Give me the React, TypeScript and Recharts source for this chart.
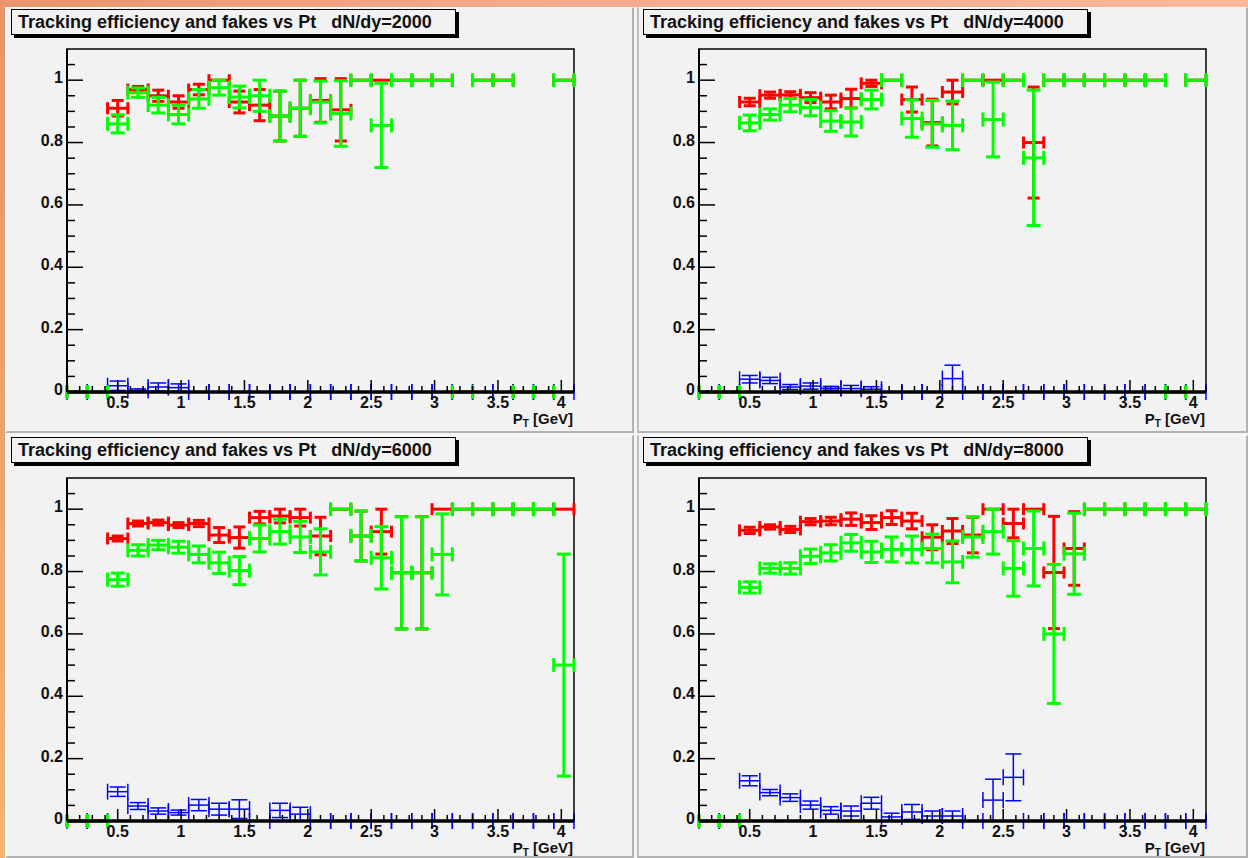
import React from 'react';
import {ScatterChart, Scatter, XAxis, YAxis, ErrorBar, ReferenceArea, ReferenceLine} from 'recharts';

// pT bins (GeV), 25 bins of width 0.16 from 0.1 to 4.1
const binCenters = [0.18, 0.34, 0.5, 0.66, 0.82, 0.98, 1.14, 1.3, 1.46, 1.62, 1.78, 1.94, 2.1, 2.26, 2.42, 2.58, 2.74, 2.9, 3.06, 3.22, 3.38, 3.54, 3.7, 3.86, 4.02];
const binHalfWidth = 0.08;

const xTicks = [0.2, 0.3, 0.4, 0.5, 0.6, 0.7, 0.8, 0.9, 1, 1.1, 1.2, 1.3, 1.4, 1.5, 1.6, 1.7, 1.8, 1.9, 2, 2.1, 2.2, 2.3, 2.4, 2.5, 2.6, 2.7, 2.8, 2.9, 3, 3.1, 3.2, 3.3, 3.4, 3.5, 3.6, 3.7, 3.8, 3.9, 4, 4.1];
const xMajor = [0.5, 1, 1.5, 2, 2.5, 3, 3.5, 4];
const yTicks = [0, 0.05, 0.1, 0.15, 0.2, 0.25, 0.3, 0.35, 0.4, 0.45, 0.5, 0.55, 0.6, 0.65, 0.7, 0.75, 0.8, 0.85, 0.9, 0.95, 1, 1.05];
const yMajor = [0, 0.2, 0.4, 0.6, 0.8, 1];

// dN/dy = 2000
const red2000 = [0, 0, 0.91, 0.97, 0.95, 0.93, 0.97, 1.0, 0.93, 0.92, 0.885, 0.91, 0.935, 0.905, 1.0, 1.0, 1.0, 1.0, 1.0, 0, 1.0, 1.0, 0, 0, 1.0];
const red2000Err = [0, 0, 0.025, 0.01, 0.018, 0.02, 0.017, 0, 0.035, 0.05, 0.08, 0.09, 0.07, 0.1, 0, 0, 0, 0, 0, 0, 0, 0, 0, 0, 0];
const green2000 = [0, 0, 0.86, 0.96, 0.92, 0.89, 0.94, 0.976, 0.946, 0.95, 0.885, 0.91, 0.93, 0.893, 1.0, 0.855, 1.0, 1.0, 1.0, 0, 1.0, 1.0, 0, 0, 1.0];
const green2000Err = [0, 0, 0.029, 0.015, 0.025, 0.03, 0.03, 0.024, 0.035, 0.05, 0.08, 0.09, 0.067, 0.105, 0, 0.135, 0, 0, 0, 0, 0, 0, 0, 0, 0];
const blue2000 = [0, 0, 0.02, 0.005, 0.016, 0.014, 0, 0, 0, 0, 0, 0, 0, 0, 0, 0, 0, 0, 0, 0, 0, 0, 0, 0, 0];
const blue2000Err = [0, 0, 0.015, 0.005, 0.013, 0.012, 0, 0, 0, 0, 0, 0, 0, 0, 0, 0, 0, 0, 0, 0, 0, 0, 0, 0, 0];

// dN/dy = 4000
const red4000 = [0, 0, 0.93, 0.952, 0.953, 0.944, 0.93, 0.941, 0.99, 1.0, 0.938, 0.864, 0.962, 1.0, 1.0, 1.0, 0.8, 1.0, 1.0, 1.0, 1.0, 1.0, 1.0, 0, 1.0];
const red4000Err = [0, 0, 0.012, 0.01, 0.01, 0.016, 0.022, 0.03, 0.01, 0, 0.04, 0.075, 0.038, 0, 0, 0, 0.178, 0, 0, 0, 0, 0, 0, 0, 0];
const green4000 = [0, 0, 0.863, 0.89, 0.92, 0.912, 0.869, 0.866, 0.938, 1.0, 0.877, 0.86, 0.855, 1.0, 0.874, 1.0, 0.751, 1.0, 1.0, 1.0, 1.0, 1.0, 1.0, 0, 1.0];
const green4000Err = [0, 0, 0.025, 0.018, 0.021, 0.026, 0.033, 0.045, 0.03, 0, 0.06, 0.075, 0.078, 0, 0.12, 0, 0.217, 0, 0, 0, 0, 0, 0, 0, 0];
const blue4000 = [0, 0, 0.041, 0.037, 0.016, 0.019, 0.012, 0.011, 0.009, 0, 0, 0, 0.043, 0, 0, 0, 0, 0, 0, 0, 0, 0, 0, 0, 0];
const blue4000Err = [0, 0, 0.012, 0.01, 0.008, 0.01, 0.006, 0.01, 0.008, 0, 0, 0, 0.043, 0, 0, 0, 0, 0, 0, 0, 0, 0, 0, 0, 0];

// dN/dy = 6000
const red6000 = [0, 0, 0.906, 0.954, 0.957, 0.949, 0.954, 0.917, 0.909, 0.973, 0.978, 0.973, 0.914, 1.0, 0.914, 0.928, 0.796, 0.796, 1.0, 1.0, 1.0, 1.0, 1.0, 1.0, 1.0];
const red6000Err = [0, 0, 0.008, 0.008, 0.008, 0.008, 0.01, 0.024, 0.034, 0.02, 0.022, 0.027, 0.06, 0, 0.08, 0.072, 0.18, 0.18, 0, 0, 0, 0, 0, 0, 0];
const green6000 = [0, 0, 0.774, 0.868, 0.885, 0.878, 0.855, 0.828, 0.803, 0.906, 0.928, 0.911, 0.863, 1.0, 0.914, 0.844, 0.796, 0.796, 0.855, 1.0, 1.0, 1.0, 1.0, 1.0, 0.5];
const green6000Err = [0, 0, 0.021, 0.018, 0.015, 0.019, 0.027, 0.034, 0.045, 0.043, 0.04, 0.05, 0.074, 0, 0.08, 0.1, 0.18, 0.18, 0.13, 0, 0, 0, 0, 0, 0.356];
const blue6000 = [0, 0, 0.094, 0.048, 0.032, 0.027, 0.051, 0.038, 0.038, 0, 0.034, 0.022, 0, 0, 0, 0, 0, 0, 0, 0, 0, 0, 0, 0, 0];
const blue6000Err = [0, 0, 0.015, 0.011, 0.01, 0.008, 0.018, 0.019, 0.03, 0, 0.023, 0.022, 0, 0, 0, 0, 0, 0, 0, 0, 0, 0, 0, 0, 0];

// dN/dy = 8000
const red8000 = [0, 0, 0.932, 0.943, 0.935, 0.96, 0.962, 0.968, 0.957, 0.973, 0.962, 0.91, 0.93, 0.917, 1.0, 0.954, 1.0, 0.797, 0.874, 1.0, 1.0, 1.0, 1.0, 1.0, 1.0];
const red8000Err = [0, 0, 0.01, 0.007, 0.01, 0.01, 0.012, 0.02, 0.022, 0.022, 0.025, 0.04, 0.04, 0.057, 0, 0.046, 0, 0.18, 0.118, 0, 0, 0, 0, 0, 0];
const green8000 = [0, 0, 0.749, 0.81, 0.81, 0.849, 0.86, 0.892, 0.863, 0.871, 0.871, 0.874, 0.831, 0.911, 0.928, 0.81, 0.874, 0.6, 0.857, 1.0, 1.0, 1.0, 1.0, 1.0, 1.0];
const green8000Err = [0, 0, 0.018, 0.015, 0.018, 0.023, 0.026, 0.027, 0.034, 0.04, 0.043, 0.046, 0.067, 0.065, 0.072, 0.089, 0.12, 0.223, 0.13, 0, 0, 0, 0, 0, 0];
const blue8000 = [0, 0, 0.129, 0.091, 0.075, 0.051, 0.034, 0.032, 0.057, 0.013, 0.029, 0.016, 0.016, 0, 0.067, 0.14, 0, 0, 0, 0, 0, 0, 0, 0, 0];
const blue8000Err = [0, 0, 0.016, 0.01, 0.012, 0.013, 0.012, 0.016, 0.019, 0.012, 0.024, 0.016, 0.016, 0, 0.067, 0.075, 0, 0, 0, 0, 0, 0, 0, 0, 0];

const FONT = "'Liberation Sans', Arial, Helvetica, sans-serif";

const toPoints = (vals: number[], errs: number[]) =>
    binCenters.map((x, i) => ({x, y: vals[i], ex: binHalfWidth, ey: errs[i]}));

const noMarker = () => <g/>;

const XTick = (props: any) => {
    const {x, y, payload} = props;
    const v = payload.value;
    const major = xMajor.includes(v);
    return (
        <g>
            <line x1={x} x2={x} y1={y} y2={y - (major ? 12 : 6)} stroke="#000" strokeWidth={1.5}/>
            {major && (
                <text x={x} y={y + 16} textAnchor="middle" fontSize={16} fontWeight="bold" fontFamily={FONT} fill="#111">
                    {String(v)}
                </text>
            )}
        </g>
    );
};

const YTick = (props: any) => {
    const {x, y, payload} = props;
    const v = payload.value;
    const major = yMajor.includes(v);
    return (
        <g>
            <line x1={x} x2={x + (major ? 16 : 8)} y1={y} y2={y} stroke="#000" strokeWidth={1.5}/>
            {major && (
                <text x={x - 4} y={y + 3} textAnchor="end" fontSize={16} fontWeight="bold" fontFamily={FONT} fill="#111">
                    {String(v)}
                </text>
            )}
        </g>
    );
};

const Series = (vals: number[], errs: number[], color: string, lw: number, cap: number) => (
    <Scatter data={toPoints(vals, errs)} dataKey="y" isAnimationActive={false} shape={noMarker}>
        <ErrorBar dataKey="ex" direction="x" width={cap} stroke={color} strokeWidth={lw} isAnimationActive={false}/>
        <ErrorBar dataKey="ey" direction="y" width={cap} stroke={color} strokeWidth={lw} isAnimationActive={false}/>
    </Scatter>
);

type PanelProps = {
    dndy: string;
    left: number; top: number; width: number; height: number;
    red: number[]; redErr: number[];
    green: number[]; greenErr: number[];
    blue: number[]; blueErr: number[];
    leftEdge: string;
};

const Panel = (p: PanelProps) => {
    const plotTop = p.top < 100 ? 42 : 43;
    const bottom = p.height - plotTop - 343 - 30;
    return (
        <>
            <div style={{
                position: 'absolute', left: p.left, top: p.top, width: p.width, height: p.height,
                boxSizing: 'border-box', background: '#f2f2f2',
                borderRight: '2px solid #b2b2b2', borderBottom: '2px solid #b2b2b2',
                borderLeft: `2px solid ${p.leftEdge}`, borderTop: '1px solid #fafafa',
            }}/>
            <div style={{position: 'absolute', left: p.left, top: p.top}}>
                <ScatterChart width={p.width} height={p.height}
                              margin={{top: plotTop, right: p.width - 62 - 507, bottom, left: 22}}>
                    <XAxis type="number" dataKey="x" domain={[0.1, 4.1]} ticks={xTicks} interval={0}
                           tick={XTick} tickLine={false} tickSize={0} tickMargin={0} height={30}
                           axisLine={{stroke: '#000', strokeWidth: 2}}/>
                    <YAxis type="number" dataKey="y" domain={[0, 1.1]} ticks={yTicks} interval={0}
                           tick={YTick} tickLine={false} tickSize={0} tickMargin={0} width={40}
                           axisLine={{stroke: '#000', strokeWidth: 2}}/>
                    <ReferenceArea x1={0.1} x2={4.1} y1={0} y2={1.1} fill="none" stroke="#000" strokeWidth={1.5}/>
                    {Series(p.red, p.redErr, '#ff0000', 3, 6)}
                    {Series(p.blue, p.blueErr, '#0000ff', 1.5, 8)}
                    {Series(p.green, p.greenErr, '#00ff00', 3, 7)}
                    <ReferenceLine y={0} stroke="#000" strokeWidth={3.5} zIndex={2000}/>
                </ScatterChart>
            </div>
            <div style={{
                position: 'absolute', left: p.left + 6, top: p.top + 2, width: 437, height: 24,
                border: '1px solid #000', boxShadow: '3px 3px 0 #000', background: '#f2f2f2',
                fontFamily: FONT, fontWeight: 'bold', fontSize: 18, lineHeight: '24px',
                paddingLeft: 6, boxSizing: 'content-box', whiteSpace: 'pre', color: '#111', overflow: 'hidden',
            }}>
                {'Tracking efficiency and fakes vs Pt   dN/dy=' + p.dndy}
            </div>
            <div style={{
                position: 'absolute', left: p.left + 468, top: p.top + plotTop + 343 + 19, width: 100, textAlign: 'right',
                fontFamily: FONT, fontWeight: 'bold', fontSize: 15, lineHeight: '15px', color: '#111',
                whiteSpace: 'pre',
            }}>
                P<span style={{fontSize: 10, position: 'relative', top: 3}}>T</span> [GeV]
            </div>
        </>
    );
};

export default function App() {
    return (
        <div style={{position: 'absolute', left: 0, top: 0, width: 1248, height: 858, overflow: 'hidden', background: '#f4f4f4'}}>
            <div style={{position: 'absolute', left: 0, top: 0, width: 1248, height: 7,
                background: 'linear-gradient(90deg, #e8946c, #f4a98b 40%, #fbb69c)'}}/>
            <div style={{position: 'absolute', left: 0, top: 0, width: 5, height: 858,
                background: 'linear-gradient(180deg, #e8946c, #eba46e 50%, #f0b472)'}}/>
            <Panel dndy="2000" left={5} top={7} width={629} height={426} leftEdge="#ffffff"
                   red={red2000} redErr={red2000Err} green={green2000} greenErr={green2000Err}
                   blue={blue2000} blueErr={blue2000Err}/>
            <Panel dndy="4000" left={637} top={7} width={611} height={426} leftEdge="#bdbdbd"
                   red={red4000} redErr={red4000Err} green={green4000} greenErr={green4000Err}
                   blue={blue4000} blueErr={blue4000Err}/>
            <Panel dndy="6000" left={5} top={435} width={629} height={423} leftEdge="#ffffff"
                   red={red6000} redErr={red6000Err} green={green6000} greenErr={green6000Err}
                   blue={blue6000} blueErr={blue6000Err}/>
            <Panel dndy="8000" left={637} top={435} width={611} height={423} leftEdge="#bdbdbd"
                   red={red8000} redErr={red8000Err} green={green8000} greenErr={green8000Err}
                   blue={blue8000} blueErr={blue8000Err}/>
        </div>
    );
}
